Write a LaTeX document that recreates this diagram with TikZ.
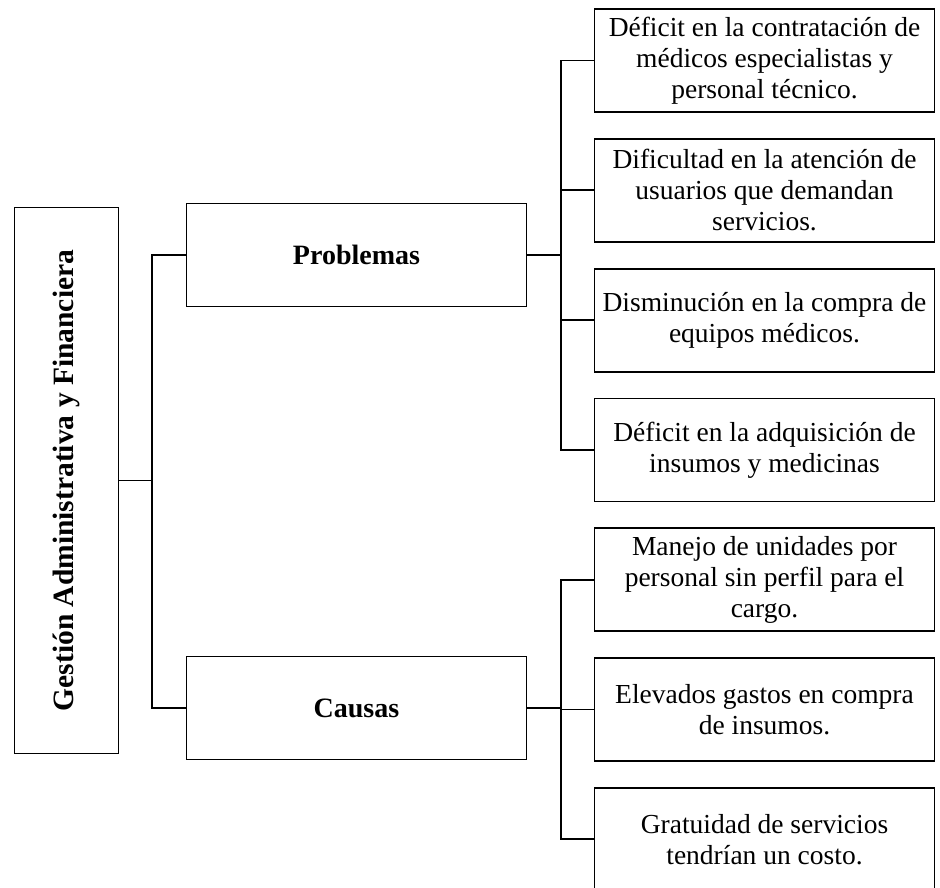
\documentclass[tikz,border=0pt]{standalone}
\usepackage{fontspec}
\setmainfont{Liberation Serif}
\usepackage{tikz}
\usetikzlibrary{positioning}

\begin{document}
\begin{tikzpicture}[x=1pt, y=-1pt, line width=1.8pt, node distance=25pt,
    caja/.style={draw, minimum width=340pt, minimum height=103pt, inner sep=2pt,
      align=center, font=\fontsize{27.5}{31}\selectfont},
    titulo/.style={caja, font=\bfseries\fontsize{28}{31}\selectfont}]
  \useasboundingbox (0,0) rectangle (940,888);
  \node[draw, rotate=90, minimum width=546pt, minimum height=104pt,
    font=\bfseries\fontsize{29.5}{31}\selectfont] (Gestion) at (66.5,480.5)
    {Gestión Administrativa y Financiera};
  \node[titulo] (Problemas) at (356.5,255) {Problemas};
  \node[titulo] (Causas) at (356.5,708) {Causas};
  % problemas
  \node[caja] (P1) at (764.5,60.5) {Déficit en la contratación de\\médicos especialistas y\\personal técnico.};
  \node[caja, below=of P1] (P2) {Dificultad en la atención de\\usuarios que demandan\\servicios.};
  \node[caja, below=of P2] (P3) {Disminución en la compra de\\equipos médicos.};
  \node[caja, below=of P3] (P4) {Déficit en la adquisición de\\insumos y medicinas};
  % causas
  \node[caja, below=of P4] (C1) {Manejo de unidades por\\personal sin perfil para el\\cargo.};
  \node[caja, below=of C1] (C2) {Elevados gastos en compra\\de insumos.};
  \node[caja, below=of C2] (C3) {Gratuidad de servicios\\tendrían un costo.};
  \coordinate (Tronco) at (152,480.5);
  \coordinate (BusP) at (561,255);
  \coordinate (BusC) at (561,708);
  \draw (Gestion.south) -- (Tronco);
  \draw (Problemas.west) -| (Tronco) |- (Causas.west);
  \draw (Problemas.east) -- (BusP);
  \draw (Causas.east) -- (BusC);
  \foreach \n in {P1,P2,P3,P4}
    \draw (BusP) |- (\n.west);
  \foreach \n in {C1,C2,C3}
    \draw (BusC) |- (\n.west);
\end{tikzpicture}
\end{document}
